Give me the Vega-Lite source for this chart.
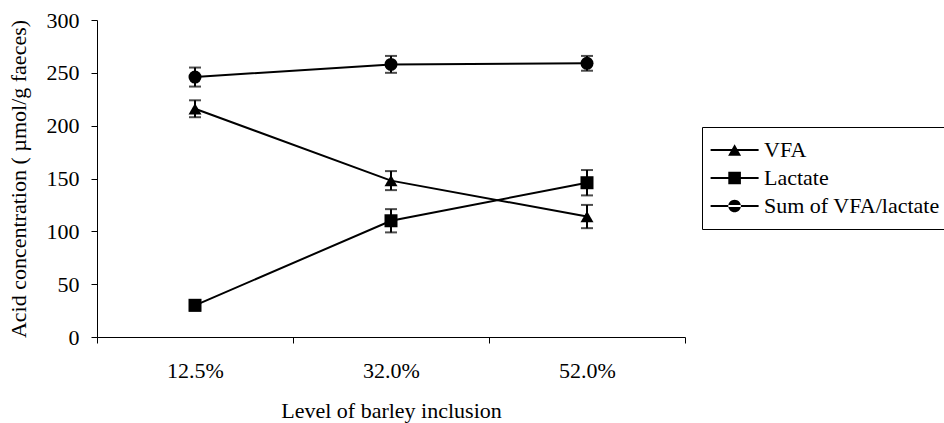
{
  "$schema": "https://vega.github.io/schema/vega-lite/v6.json",
  "width": 588,
  "height": 317,
  "autosize": {"type": "none"},
  "padding": {"left": 97, "top": 20, "right": 259, "bottom": 86},
  "background": "white",
  "config": {
    "view": {"stroke": null},
    "font": "Liberation Serif",
    "axis": {
      "grid": false,
      "domainColor": "black",
      "domainWidth": 1,
      "tickColor": "black",
      "tickWidth": 1,
      "tickSize": 6,
      "labelFont": "Liberation Serif",
      "labelFontSize": 22,
      "labelColor": "black",
      "titleFont": "Liberation Serif",
      "titleFontSize": 22,
      "titleFontWeight": "normal",
      "titleColor": "black"
    }
  },
  "data": {
    "values": [
      {"level": "12.5%", "series": "VFA", "value": 216, "se": 8},
      {"level": "32.0%", "series": "VFA", "value": 148, "se": 9},
      {"level": "52.0%", "series": "VFA", "value": 114, "se": 11},
      {"level": "12.5%", "series": "Lactate", "value": 30, "se": 5},
      {"level": "32.0%", "series": "Lactate", "value": 110, "se": 11},
      {"level": "52.0%", "series": "Lactate", "value": 146, "se": 12},
      {"level": "12.5%", "series": "Sum of VFA/lactate", "value": 246, "se": 9},
      {"level": "32.0%", "series": "Sum of VFA/lactate", "value": 258, "se": 8},
      {"level": "52.0%", "series": "Sum of VFA/lactate", "value": 259, "se": 7}
    ]
  },
  "encoding": {
    "x": {
      "field": "level",
      "type": "ordinal",
      "sort": ["12.5%", "32.0%", "52.0%"],
      "scale": {"type": "band", "paddingInner": 0, "paddingOuter": 0},
      "axis": {
        "title": "Level of barley inclusion",
        "labelAngle": 0,
        "tickBand": "extent",
        "labelPadding": 17,
        "titlePadding": 19
      }
    },
    "y": {
      "field": "value",
      "type": "quantitative",
      "scale": {"domain": [0, 300], "nice": false},
      "axis": {
        "title": "Acid concentration ( µmol/g faeces)",
        "values": [0, 50, 100, 150, 200, 250, 300],
        "labelPadding": 12,
        "titlePadding": 16
      }
    }
  },
  "layer": [
    {
      "mark": {"type": "errorbar", "color": "black", "thickness": 2, "ticks": {"size": 12, "thickness": 2, "color": "black"}},
      "encoding": {
        "yError": {"field": "se"},
        "detail": {"field": "series"}
      }
    },
    {
      "mark": {"type": "line", "color": "black", "strokeWidth": 2},
      "encoding": {"detail": {"field": "series"}}
    },
    {
      "mark": {"type": "point", "filled": true, "size": 169, "color": "black", "opacity": 1},
      "encoding": {
        "shape": {
          "field": "series",
          "type": "nominal",
          "scale": {"domain": ["VFA", "Lactate", "Sum of VFA/lactate"], "range": ["triangle-up", "square", "circle"]},
          "legend": null
        }
      }
    },
    {
      "mark": {"type": "point", "filled": true, "size": 144, "color": "black", "opacity": 0},
      "encoding": {
        "shape": {
          "field": "series",
          "type": "nominal",
          "scale": {
            "domain": ["VFA", "Lactate", "Sum of VFA/lactate"],
            "range": [
              "M-2.4,-0.17L5.6,-0.17L5.6,0.17L-2.4,0.17ZM1.6,-0.94L2.68,0.94L0.52,0.94Z",
              "M-2.4,-0.17L5.6,-0.17L5.6,0.17L-2.4,0.17ZM0.55,-1.05L2.65,-1.05L2.65,1.05L0.55,1.05Z",
              "M-2.4,-0.17L5.6,-0.17L5.6,0.17L-2.4,0.17ZM0.55,0A1.05,1.05 0 1,0 2.65,0A1.05,1.05 0 1,0 0.55,0Z"
            ]
          },
          "legend": {
            "title": null,
            "orient": "none",
            "legendX": 605,
            "legendY": 107,
            "strokeColor": "black",
            "fillColor": "white",
            "padding": 12,
            "rowPadding": 6,
            "labelFont": "Liberation Serif",
            "labelFontSize": 22,
            "labelColor": "black",
            "labelLimit": 500,
            "labelOffset": 28,
            "symbolSize": 144,
            "symbolOpacity": 1,
            "symbolFillColor": "black",
            "symbolStrokeWidth": 0
          }
        }
      }
    }
  ],
  "resolve": {"scale": {"shape": "independent"}}
}
